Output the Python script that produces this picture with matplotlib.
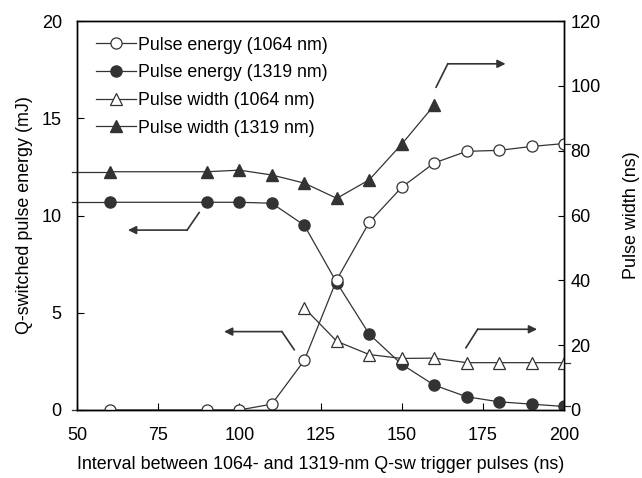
import matplotlib.pyplot as plt

plt.rcParams['font.family'] = ['Liberation Sans', 'DejaVu Sans']

interval = [60, 90, 100, 110, 120, 130, 140, 150, 160, 170, 180, 190, 200]
energy_1064 = [0, 0, 0, 0.3, 2.55, 6.7, 9.65, 11.45, 12.7, 13.3, 13.35, 13.55, 13.7]
energy_1319 = [10.68, 10.68, 10.68, 10.63, 9.5, 6.55, 3.9, 2.35, 1.28, 0.68, 0.42, 0.3, 0.18]

width_x = [120, 130, 140, 150, 160, 170, 180, 190, 200]
width_1064 = [31.5, 21.2, 17.1, 15.9, 16.0, 14.6, 14.6, 14.6, 14.6]
width_x_1319 = [60, 90, 100, 110, 120, 130, 140, 150, 160]
width_1319 = [73.5, 73.5, 74.0, 72.5, 70.0, 65.3, 71.0, 82.0, 94.0]

# arrows: (tail, corner, head) in left-axis data units
arrows = [
    [(160.6, 16.6), (164.2, 17.8), (182.0, 17.8)],
    [(87.6, 10.15), (83.9, 9.25), (65.7, 9.25)],
    [(116.9, 3.1), (113.1, 4.03), (95.3, 4.03)],
    [(169.8, 3.2), (173.4, 4.15), (191.7, 4.15)],
]

dark = '#333333'

fig = plt.figure(figsize=(6.42, 4.78), dpi=100)
ax = fig.add_axes([0.12, 0.1423, 0.7585, 0.8137])
ax2 = ax.twinx()

ax.plot(interval, energy_1064, '-o', color=dark, lw=0.9, ms=8, mfc='white', mec=dark, mew=0.9,
        label='Pulse energy (1064 nm)', zorder=4)
ax.plot(interval, energy_1319, '-o', color=dark, lw=0.9, ms=8, mfc=dark, mec=dark,
        label='Pulse energy (1319 nm)', zorder=3)
l3, = ax2.plot(width_x, width_1064, '-^', color=dark, lw=0.9, ms=9, mfc='white', mec=dark, mew=0.9,
               label='Pulse width (1064 nm)')
l4, = ax2.plot(width_x_1319, width_1319, '-^', color=dark, lw=0.9, ms=9, mfc=dark, mec=dark,
               label='Pulse width (1319 nm)')

# the series lines run a little past the plot edges, as in the original
for a, xs, ys in [(ax, interval, energy_1064), (ax, interval, energy_1319), (ax2, width_x_1319, width_1319)]:
    a.plot([48.5, xs[0]], [ys[0], ys[0]], color=dark, lw=0.9, clip_on=False, zorder=1)
for a, xs, ys in [(ax, interval, energy_1064), (ax, interval, energy_1319), (ax2, width_x, width_1064)]:
    a.plot([xs[-1], 202], [ys[-1], ys[-1]], color=dark, lw=0.9, clip_on=False, zorder=1)

for tail, corner, head in arrows:
    ax.plot([tail[0], corner[0]], [tail[1], corner[1]], color=dark, lw=1.2)
    ax.annotate('', xy=head, xytext=corner,
                arrowprops=dict(arrowstyle='-|>', color=dark, lw=1.2, mutation_scale=12,
                                shrinkA=0, shrinkB=0))

ax.set_xlim(50, 200)
ax.set_ylim(0, 20)
ax2.set_ylim(0, 120)
ax.set_xticks([50, 75, 100, 125, 150, 175, 200])
ax.set_yticks([0, 5, 10, 15, 20])
ax2.set_yticks([0, 20, 40, 60, 80, 100, 120])

ax.tick_params(direction='in', labelsize=13, length=5)
ax2.tick_params(direction='in', labelsize=13, length=4.5, pad=4.5)
ax.tick_params(axis='x', pad=12)
ax.tick_params(axis='y', pad=11)
ax.set_xlabel('Interval between 1064- and 1319-nm Q-sw trigger pulses (ns)', fontsize=12.9, labelpad=9)
ax.set_ylabel('Q-switched pulse energy (mJ)', fontsize=12.9, labelpad=6)
ax2.set_ylabel('Pulse width (ns)', fontsize=12.9, labelpad=16)

for a in (ax, ax2):
    for s in a.spines.values():
        s.set_linewidth(1.0)
        s.set_color('black')

h1, lab1 = ax.get_legend_handles_labels()
ax.legend(h1 + [l3, l4], lab1 + [l3.get_label(), l4.get_label()], loc='upper left',
          frameon=False, fontsize=12.8, handlelength=2.25, handletextpad=0.1,
          labelspacing=0.6, borderaxespad=0.3, bbox_to_anchor=(0.014, 0.992))

fig.savefig('out.png', dpi=100)
